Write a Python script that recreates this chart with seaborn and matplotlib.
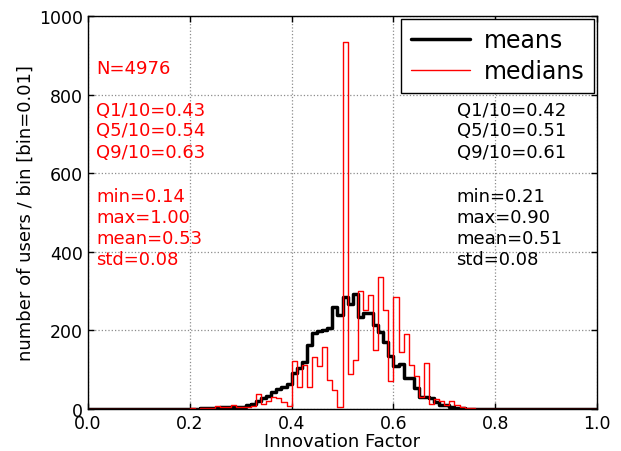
# Innovation factor histogram: per-user means vs medians (bin = 0.01)
import numpy as np
import pandas as pd
import matplotlib
matplotlib.use("Agg")
import matplotlib.pyplot as plt
import seaborn as sns

# bin edges 0.00 .. 1.00, width 0.01
bin_edges = np.round(np.linspace(0.0, 1.0, 101), 2)
bin_centers = bin_edges[:-1] + 0.005

# counts per bin (rows = 0.00-0.09, 0.10-0.19, ...)
mean_counts = [
    0, 0, 0, 0, 0, 0, 0, 0, 0, 0,
    0, 0, 0, 0, 0, 0, 0, 0, 0, 0,
    0, 1, 2, 2, 3, 3, 4, 4, 5, 5,
    6, 10, 13, 20, 27, 33, 43, 51, 56, 63,
    92, 104, 120, 163, 193, 199, 201, 205, 259, 238,
    284, 267, 293, 235, 245, 245, 214, 195, 170, 134,
    110, 115, 80, 79, 53, 31, 31, 28, 19, 10,
    10, 6, 3, 2, 1, 1, 0, 0, 0, 0,
    0, 0, 0, 0, 0, 0, 0, 0, 0, 1,
    0, 0, 0, 0, 0, 0, 0, 0, 0, 0,
]
median_counts = [
    0, 0, 0, 0, 0, 0, 0, 0, 0, 0,
    0, 0, 0, 0, 1, 0, 1, 1, 1, 1,
    2, 1, 2, 2, 2, 8, 4, 5, 9, 6,
    5, 5, 7, 37, 14, 20, 31, 28, 17, 7,
    122, 57, 112, 57, 132, 110, 159, 74, 48, 6,
    935, 89, 125, 299, 252, 290, 150, 337, 252, 70,
    285, 146, 190, 112, 84, 31, 118, 14, 25, 21,
    11, 20, 10, 6, 3, 2, 1, 0, 0, 0,
    0, 0, 0, 0, 0, 0, 0, 0, 0, 0,
    0, 0, 0, 0, 0, 0, 0, 0, 0, 1,
]

n_users = 4976
median_stats = ["Q1/10=0.43", "Q5/10=0.54", "Q9/10=0.63",
                "min=0.14", "max=1.00", "mean=0.53", "std=0.08"]
mean_stats = ["Q1/10=0.42", "Q5/10=0.51", "Q9/10=0.61",
              "min=0.21", "max=0.90", "mean=0.51", "std=0.08"]
stat_y = [749, 696, 640, 530, 477, 423, 370]

df = pd.DataFrame({"x": bin_centers, "means": mean_counts,
                   "medians": median_counts})

sns.set_style("ticks")
plt.rcParams["font.family"] = ["DejaVu Sans"]
plt.rcParams["xtick.direction"] = "in"
plt.rcParams["ytick.direction"] = "in"
plt.rcParams["text.color"] = "black"
plt.rcParams["axes.labelcolor"] = "black"
plt.rcParams["xtick.color"] = "black"
plt.rcParams["ytick.color"] = "black"

fig = plt.figure(figsize=(6.21, 4.52), dpi=100)
ax = fig.add_axes([0.1417, 0.0929, 0.8197, 0.8695])

sns.histplot(data=df, x="x", weights="means", bins=list(bin_edges),
             element="step", fill=False, color="black", linewidth=2.5,
             label="means", ax=ax)
sns.histplot(data=df, x="x", weights="medians", bins=list(bin_edges),
             element="step", fill=False, color="red", linewidth=1.0,
             label="medians", ax=ax)

ax.set_xlim(0, 1)
ax.set_ylim(0, 1000)
ax.set_xticks(np.arange(0, 1.01, 0.2))
ax.set_yticks(np.arange(0, 1001, 200))
ax.tick_params(top=True, right=True, labelsize=12.5, length=4, width=1,
               colors="black")
ax.grid(True, color="0.55", linestyle=":", linewidth=0.9)
for s in ax.spines.values():
    s.set_linewidth(1.0)
    s.set_color("black")

ax.set_xlabel("Innovation Factor", fontsize=13, labelpad=0, color="black")
ax.set_ylabel("number of users / bin [bin=0.01]", fontsize=13, labelpad=3,
              color="black")

ax.text(0.016, 854, f"N={n_users}", color="red", fontsize=13)
for txt, y in zip(median_stats, stat_y):
    ax.text(0.016, y, txt, color="red", fontsize=13)
for txt, y in zip(mean_stats, stat_y):
    ax.text(0.724, y, txt, color="black", fontsize=13)

leg = ax.legend(loc="upper right", fontsize=17, frameon=True, fancybox=False,
                handlelength=2.5, handletextpad=0.6, borderaxespad=0.12,
                labelspacing=0.3)
leg.get_frame().set_edgecolor("black")
leg.get_frame().set_linewidth(1.0)
leg.get_frame().set_alpha(1)
for t in leg.get_texts():
    t.set_color("black")

plt.savefig("out.png", dpi=100)
plt.close()
